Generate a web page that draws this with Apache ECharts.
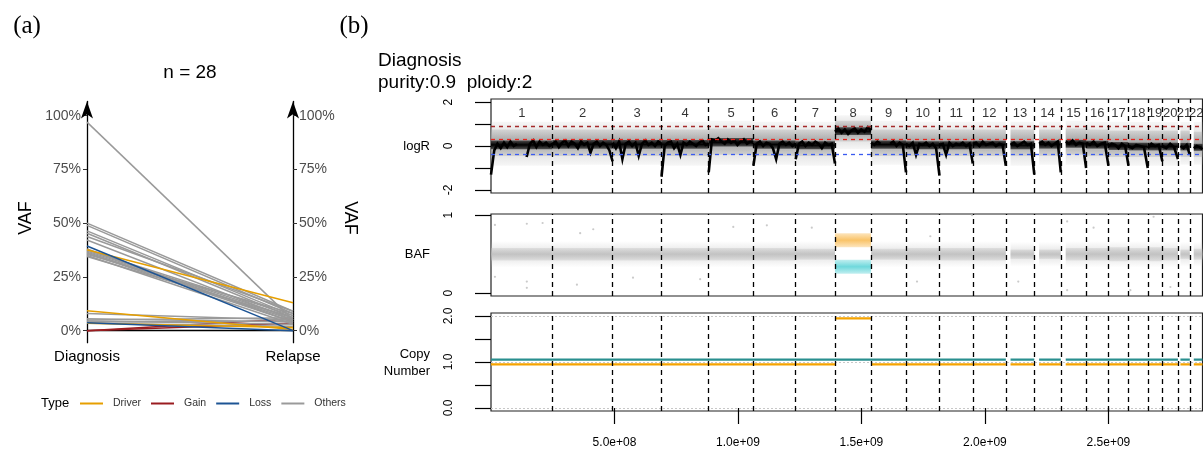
<!DOCTYPE html>
<html>
<head>
<meta charset="utf-8">
<title>VAF and copy number</title>
<script src="https://cdn.jsdelivr.net/npm/echarts@6.0.0/dist/echarts.min.js"></script>
<style>
  html, body { margin: 0; padding: 0; background: #fff; }
  #chart { width: 1203px; height: 451px; }
</style>
</head>
<body>
<div id="chart"></div>
<script>
// (a) VAF of the 28 mutations at diagnosis and relapse
var mutType = ['Gain', 'Gain',
  'Others', 'Others', 'Others', 'Others', 'Others', 'Others', 'Others', 'Others', 'Others', 'Others',
  'Others', 'Others', 'Others', 'Others', 'Others', 'Others', 'Others', 'Others', 'Others', 'Others', 'Others',
  'Driver', 'Driver', 'Driver', 'Loss', 'Loss'];
var vafDiagnosis = [0.0, 0.0,
  0.97, 0.50, 0.49, 0.464, 0.453, 0.438, 0.422, 0.38, 0.375, 0.37,
  0.365, 0.36, 0.355, 0.35, 0.345, 0.08, 0.055, 0.05, 0.045, 0.04, 0.035,
  0.376, 0.093, 0.035, 0.394, 0.037];
var vafRelapse = [0.055, 0.035,
  0.05, 0.09, 0.08, 0.07, 0.06, 0.09, 0.05, 0.04, 0.07, 0.06,
  0.05, 0.04, 0.08, 0.03, 0.06, 0.05, 0.04, 0.06, 0.03, 0.045, 0.02,
  0.13, 0.005, 0.015, 0.0, 0.0];
var typeNames = ['Driver', 'Gain', 'Loss', 'Others'];
var typeColors = { Driver: '#E69F00', Gain: '#9A1C20', Loss: '#1D5494', Others: '#9A9A9A' };
var vafTicks = [0, 0.25, 0.5, 0.75, 1];

// (b) genome (hg19 chromosome sizes, Mb)
var chromNames = ['1','2','3','4','5','6','7','8','9','10','11','12','13','14','15','16','17','18','19','20','21','22'];
var chromLenMb = [249.25, 243.20, 198.02, 191.15, 180.92, 171.12, 159.14, 146.36, 141.21, 135.53, 135.01,
  133.85, 115.17, 107.35, 102.53, 90.35, 81.20, 78.08, 59.13, 63.03, 48.13, 51.30];
var chromDataStartMb = [0, 0, 0, 0, 0, 0, 0, 0, 0, 0, 0, 0, 19.0, 19.5, 20.0, 0, 0, 0, 0, 0, 10.0, 16.0];
var majorCN = [1, 1, 1, 1, 1, 1, 1, 2, 1, 1, 1, 1, 1, 1, 1, 1, 1, 1, 1, 1, 1, 1];
var minorCN = [1, 1, 1, 1, 1, 1, 1, 1, 1, 1, 1, 1, 1, 1, 1, 1, 1, 1, 1, 1, 1, 1];

// logR reference lines
var logRLineValues = [0.91, 0.30, -0.36];
var logRLineColors = ['#A52A2A', '#E8261E', '#3A5BF0'];

// raw logR cloud per chromosome
var logROuterLo = [-0.9,-0.85,-0.85,-0.9,-0.85,-0.85,-0.9,-0.15,-0.85,-0.9,-0.85,-0.85,-0.9,-0.85,-0.85,-0.9,-0.9,-0.9,-0.9,-0.9,-0.85,-0.85];
var logROuterHi = [1.1, 1.1, 1.1, 1.1, 1.15, 1.1, 1.1, 1.4, 1.15, 1.1, 1.1, 1.1, 1.1, 1.1, 1.15, 1.1, 1.1, 1.1, 1.1, 1.1, 1.1, 1.1];
var logRCoreLo = [-0.45,-0.45,-0.45,-0.45,-0.4,-0.45,-0.45,0.2,-0.45,-0.45,-0.45,-0.45,-0.45,-0.45,-0.4,-0.45,-0.5,-0.5,-0.5,-0.5,-0.5,-0.5];
var logRCoreHi = [0.75, 0.75, 0.75, 0.75, 0.8, 0.75, 0.75, 1.15, 0.75, 0.75, 0.75, 0.75, 0.75, 0.75, 0.8, 0.75, 0.7, 0.7, 0.7, 0.7, 0.7, 0.65];
// dense black (smoothed) logR band per chromosome
var logRDenseLo = [-0.15,-0.12,-0.12,-0.12,-0.02,-0.12,-0.15,0.5,-0.12,-0.15,-0.15,-0.12,-0.15,-0.12,-0.08,-0.12,-0.18,-0.2,-0.2,-0.2,-0.2,-0.22];
var logRDenseHi = [0.25, 0.27, 0.27, 0.27, 0.36, 0.25, 0.22, 0.85, 0.25, 0.22, 0.22, 0.24, 0.22, 0.25, 0.28, 0.24, 0.18, 0.15, 0.15, 0.15, 0.14, 0.1];

// segmented logR, evenly spread along each chromosome
var logRBlack = [
  [-1.3,-0.2,0.1,-0.1,0.15,-0.05,0.2,0.0,0.1,null,null,-0.5,0.1,0.25,-0.05,0.2,0.05,0.15,0.0,0.1],
  [0.1,0.2,-0.05,0.15,0.25,0.0,0.2,0.1,-0.1,0.2,0.05,0.15,-0.3,0.1,0.2,0.0,0.15,0.05,-0.2,-0.7],
  [0.15,-0.1,0.2,-0.6,0.1,0.2,0.0,0.15,-0.45,0.1,0.25,0.05,0.15,0.0,0.2,0.1],
  [-1.4,0.0,0.15,0.2,-0.1,0.1,-0.4,0.15,0.05,0.2,0.1,0.0,0.15,0.25,0.05,0.1],
  [-1.2,0.3,0.25,0.35,0.2,0.1,0.3,0.15,0.25,0.05,0.2,0.3,0.1,0.2,0.15],
  [-0.9,0.1,0.2,0.0,0.15,0.1,-0.1,-0.6,0.1,0.2,0.05,0.15,0.0,0.1],
  [-0.6,0.1,0.2,0.0,0.15,0.05,0.2,0.1,-0.1,0.15,0.05,0.1,-0.8],
  [0.65,0.8,0.6,0.75,0.55,0.7,0.8,0.6,0.75,0.65,0.85,0.7],
  [0.15,0.05,0.2,0.1,null,null,0.1,0.2,0.0,0.15,0.05,-1.2],
  [0.1,0.0,0.15,-0.4,0.1,0.05,0.15,0.0,0.1,-0.1,-1.35],
  [0.05,0.1,-0.4,0.15,0.0,0.1,0.05,0.15,0.0,0.1,-0.8],
  [0.1,0.15,0.0,0.2,0.05,0.1,0.15,0.0,0.1,0.05,-0.9],
  [0.05,0.15,0.0,0.1,0.2,0.05,0.1,-1.3],
  [0.1,0.2,0.05,0.15,0.0,0.1,0.2,-1.2],
  [0.2,0.1,0.25,0.05,0.15,0.1,-1.0],
  [0.15,0.05,0.2,0.0,0.1,0.15,-0.9],
  [0.0,0.1,0.05,-0.1,0.1,0.0,-0.9],
  [0.0,-0.1,0.05,0.0,-0.05,-1.0],
  [-0.1,0.1,0.0,0.05,-0.7],
  [0.0,-0.1,0.1,-0.05,-0.6],
  [0.0,-0.1,0.05,-0.4],
  [-0.1,0.0,-0.05,-0.15]
];

// BAF cloud per chromosome (null = no balanced cloud)
var bafOuterLo = [0.33,0.33,0.33,0.33,0.33,0.33,0.33,null,0.33,0.33,0.33,0.33,0.34,0.34,0.33,0.33,0.33,0.33,0.33,0.33,0.34,0.34];
var bafOuterHi = [0.67,0.67,0.67,0.67,0.67,0.67,0.67,null,0.67,0.67,0.67,0.67,0.66,0.66,0.67,0.67,0.67,0.67,0.67,0.67,0.66,0.66];
var bafCoreLo = [0.42,0.42,0.42,0.42,0.42,0.42,0.43,null,0.43,0.42,0.42,0.42,0.44,0.44,0.42,0.42,0.41,0.42,0.41,0.42,0.44,0.43];
var bafCoreHi = [0.58,0.58,0.58,0.58,0.58,0.58,0.57,null,0.57,0.58,0.58,0.58,0.56,0.56,0.58,0.58,0.59,0.58,0.59,0.58,0.56,0.57];
// allelic imbalance on chr8
var bafUpperLo = [null,null,null,null,null,null,null,0.59,null,null,null,null,null,null,null,null,null,null,null,null,null,null];
var bafUpperHi = [null,null,null,null,null,null,null,0.77,null,null,null,null,null,null,null,null,null,null,null,null,null,null];
var bafLowerLo = [null,null,null,null,null,null,null,0.25,null,null,null,null,null,null,null,null,null,null,null,null,null,null];
var bafLowerHi = [null,null,null,null,null,null,null,0.43,null,null,null,null,null,null,null,null,null,null,null,null,null,null];
// scattered BAF outliers: genome position (Mb), BAF
var bafOutlierPosMb = [16, 16, 145, 145, 145, 209, 348, 361, 414, 575, 847, 981, 1117, 1299, 1725, 1779, 1948, 2135, 2333, 2333, 2440, 2589, 2683, 2751];
var bafOutlierVal = [0.875, 0.21, 0.89, 0.15, 0.07, 0.9, 0.11, 0.77, 0.82, 0.2, 0.18, 0.85, 0.87, 0.84, 0.15, 0.73, 1.0, 0.15, 0.92, 0.04, 0.84, 0.04, 0.98, 0.08];

var cnTicks = [0, 0.5, 1, 1.5, 2];
var cnLabels = [0, 1, 2];
var cnGuides = [0, 1, 2];
var genomeTicks = [5e8, 1e9, 1.5e9, 2e9, 2.5e9];

// ---------- derived positions ----------
var MB = 1e6;
var chromStart = [];
var acc = 0;
for (var i = 0; i < chromLenMb.length; i++) { chromStart.push(acc * MB); acc += chromLenMb[i]; }
var genomeLen = acc * MB;
function chromEnd(i) { return chromStart[i] + chromLenMb[i] * MB; }
function dataStart(i) { return chromStart[i] + chromDataStartMb[i] * MB; }

var boundaries = [];
for (var i = 1; i < chromStart.length; i++) boundaries.push(chromStart[i]);

function bandRows(lo, hi) {
  var rows = [];
  for (var i = 0; i < lo.length; i++) {
    if (lo[i] == null) continue;
    rows.push([dataStart(i), chromEnd(i), lo[i], hi[i]]);
  }
  return rows;
}

var blackData = [];
for (var c = 0; c < logRBlack.length; c++) {
  var vals = logRBlack[c];
  var s = dataStart(c), e = chromEnd(c);
  for (var k = 0; k < vals.length; k++) {
    blackData.push([s + (e - s) * k / (vals.length - 1), vals[k]]);
  }
  blackData.push([e, null]);
}

function cnSegments(cn, shift) {
  var d = [];
  for (var i = 0; i < cn.length; i++) {
    d.push([dataStart(i), cn[i] + shift]);
    d.push([chromEnd(i), cn[i] + shift]);
    d.push([chromEnd(i), null]);
  }
  return d;
}

// soft vertical fade so the dense point clouds do not look like solid blocks
function fade(r, g, b, edge, mid) {
  var c = 'rgba(' + r + ',' + g + ',' + b + ',';
  return { type: 'linear', x: 0, y: 0, x2: 0, y2: 1, colorStops: [
    { offset: 0, color: c + edge + ')' }, { offset: 0.5, color: c + mid + ')' }, { offset: 1, color: c + edge + ')' }] };
}

function bandRender(fill) {
  return function (params, api) {
    var a = api.coord([api.value(0), api.value(3)]);
    var b = api.coord([api.value(1), api.value(2)]);
    return { type: 'rect', shape: { x: a[0], y: a[1], width: b[0] - a[0], height: b[1] - a[1] }, style: { fill: fill } };
  };
}

function sciLabel(v) {
  var p = v.toExponential(1).split('e');
  var ex = parseInt(p[1], 10);
  return p[0] + 'e' + (ex < 0 ? '-' : '+') + (Math.abs(ex) < 10 ? '0' : '') + Math.abs(ex);
}

var boundaryLines = boundaries.map(function (b) { return { xAxis: b }; });
var dashStyle = { color: '#000', width: 1.3, type: [5, 4] };
var FONT = 'Liberation Sans, Arial, Helvetica, sans-serif';

// ---------- series ----------
var series = [];
var drawOrder = ['Gain', 'Others', 'Driver', 'Loss'];
drawOrder.forEach(function (t, oi) {
  for (var i = 0; i < mutType.length; i++) {
    if (mutType[i] !== t) continue;
    series.push({
      type: 'line', name: t, xAxisIndex: 0, yAxisIndex: 0,
      data: [vafDiagnosis[i], vafRelapse[i]],
      symbol: 'none', z: 2 + oi,
      lineStyle: { color: typeColors[t], width: 1.5 },
      itemStyle: { color: typeColors[t] }
    });
  }
});

function band(xi, yi, fill, rows, z) {
  return { type: 'custom', xAxisIndex: xi, yAxisIndex: yi, clip: true, z: z || 1,
    renderItem: bandRender(fill), encode: { x: [0, 1], y: [2, 3] }, data: rows };
}

series.push(band(1, 2, fade(200, 200, 200, 0.15, 0.8), bandRows(logROuterLo, logROuterHi)));
series.push(band(1, 2, fade(150, 150, 150, 0.25, 0.75), bandRows(logRCoreLo, logRCoreHi)));
series.push(band(1, 2, fade(0, 0, 0, 0.55, 1), bandRows(logRDenseLo, logRDenseHi), 2));

var logRMarks = logRLineValues.map(function (v, i) {
  return { yAxis: v, lineStyle: { color: logRLineColors[i], width: 1.3, type: [4, 4] } };
}).concat(boundaryLines);

series.push({
  type: 'line', xAxisIndex: 1, yAxisIndex: 2, data: blackData, symbol: 'none', z: 3,
  connectNulls: false, lineStyle: { color: '#000', width: 2.6, join: 'miter' },
  markLine: { silent: true, symbol: 'none', label: { show: false }, lineStyle: dashStyle, data: logRMarks }
});

series.push({
  type: 'scatter', xAxisIndex: 1, yAxisIndex: 2, symbolSize: 1, z: 5,
  itemStyle: { color: 'rgba(0,0,0,0)' },
  label: { show: true, position: 'inside', formatter: '{b}', color: '#000', fontSize: 13, fontFamily: FONT },
  data: chromNames.map(function (n, i) { return { name: n, value: [(chromStart[i] + chromEnd(i)) / 2, 1.5] }; })
});

series.push(band(2, 3, fade(200, 200, 200, 0.0, 0.55), bandRows(bafOuterLo, bafOuterHi)));
series.push(band(2, 3, fade(185, 185, 185, 0.3, 0.75), bandRows(bafCoreLo, bafCoreHi)));
series.push(band(2, 3, fade(247, 170, 40, 0.3, 0.7), bandRows(bafUpperLo, bafUpperHi)));
series.push(band(2, 3, fade(50, 200, 205, 0.3, 0.7), bandRows(bafLowerLo, bafLowerHi)));
series.push({
  type: 'scatter', xAxisIndex: 2, yAxisIndex: 3, symbolSize: 2.2, z: 2,
  itemStyle: { color: '#bdbdbd' },
  data: bafOutlierPosMb.map(function (p, i) { return [p * MB, bafOutlierVal[i]]; }),
  markLine: { silent: true, symbol: 'none', label: { show: false }, lineStyle: dashStyle, data: boundaryLines }
});

series.push({
  type: 'line', xAxisIndex: 3, yAxisIndex: 4, data: cnSegments(minorCN, 0.05), symbol: 'none', z: 3,
  connectNulls: false, lineStyle: { color: '#2A8F8F', width: 2.2 },
  markLine: { silent: true, symbol: 'none', label: { show: false },
    lineStyle: { color: '#c8c8c8', width: 1, type: [2, 2] },
    data: cnGuides.map(function (v) { return { yAxis: v }; }) }
});
series.push({
  type: 'line', xAxisIndex: 3, yAxisIndex: 4, data: cnSegments(majorCN, -0.05), symbol: 'none', z: 3,
  connectNulls: false, lineStyle: { color: '#F5A300', width: 2.2 },
  markLine: { silent: true, symbol: 'none', label: { show: false }, lineStyle: dashStyle, data: boundaryLines }
});

// ---------- axes ----------
var vafAxisBase = {
  type: 'value', gridIndex: 0, min: -0.056, max: 1.066,
  axisLine: { show: true, symbol: ['none', 'arrow'], symbolSize: [9, 17], lineStyle: { color: '#000', width: 1.3 } },
  axisTick: { show: true, length: 4, customValues: vafTicks, lineStyle: { color: '#333' } },
  axisLabel: { customValues: vafTicks, fontSize: 14, color: '#4D4D4D', fontFamily: FONT, margin: 6,
    formatter: function (v) { return Math.round(v * 100) + '%'; } },
  splitLine: { show: false }
};
var leftVaf = Object.assign({}, vafAxisBase, { position: 'left' });
var rightVaf = Object.assign({}, vafAxisBase, { position: 'right' });

function genomeAxis(gi, withTicks) {
  return {
    type: 'value', gridIndex: gi, min: 0, max: genomeLen,
    axisLine: { show: false },
    axisTick: { show: withTicks, length: 16, inside: false, customValues: genomeTicks, lineStyle: { color: '#000', width: 1.2 } },
    axisLabel: { show: withTicks, customValues: genomeTicks, formatter: sciLabel, fontSize: 12, color: '#000', fontFamily: FONT, margin: 26 },
    splitLine: { show: false }
  };
}
function trackAxis(gi, mn, mx, ticks, labels, fmt) {
  return {
    type: 'value', gridIndex: gi, min: mn, max: mx,
    axisLine: { show: false },
    axisTick: { show: true, length: 16, customValues: ticks, lineStyle: { color: '#000', width: 1.2 } },
    axisLabel: { customValues: labels, rotate: 90, fontSize: 12, color: '#000', fontFamily: FONT, margin: 36, formatter: fmt },
    splitLine: { show: false }
  };
}

var option = {
  animation: false,
  backgroundColor: '#fff',
  textStyle: { fontFamily: FONT },
  grid: [
    { left: 87, top: 101.5, width: 206, height: 241.2 },
    { left: 491, top: 99, width: 711.5, height: 94, show: true, borderColor: '#222', borderWidth: 1.2 },
    { left: 491, top: 214, width: 711.5, height: 82, show: true, borderColor: '#222', borderWidth: 1.2 },
    { left: 491, top: 313, width: 711.5, height: 98, show: true, borderColor: '#222', borderWidth: 1.2 }
  ],
  xAxis: [
    { type: 'category', gridIndex: 0, data: ['Diagnosis', 'Relapse'], boundaryGap: false,
      axisLine: { lineStyle: { color: '#000', width: 1.3 } }, axisTick: { show: false },
      axisLabel: { fontSize: 15, color: '#000', fontFamily: FONT, margin: 7 } },
    genomeAxis(1, false), genomeAxis(2, false), genomeAxis(3, true)
  ],
  yAxis: [
    leftVaf, rightVaf,
    trackAxis(1, -2.14, 2.14, [-2, -1, 0, 1, 2], [-2, 0, 2], function (v) { return String(v); }),
    trackAxis(2, -0.035, 1.015, [0, 1], [0, 1], function (v) { return String(v); }),
    trackAxis(3, -0.065, 2.065, cnTicks, cnLabels, function (v) { return v.toFixed(1); })
  ],
  legend: {
    data: typeNames, left: 80, top: 398, padding: 0, icon: 'rect', itemWidth: 23, itemHeight: 2, itemGap: 10,
    selectedMode: false,
    textStyle: { fontSize: 10.5, color: '#333', fontFamily: FONT, padding: [0, 0, 0, 5] }
  },
  graphic: [
    { type: 'text', x: 27, y: 26, style: { text: '(a)', fontSize: 25, fontFamily: 'Liberation Serif, Times New Roman, serif', fill: '#000', textAlign: 'center', textVerticalAlign: 'middle' } },
    { type: 'text', x: 354, y: 26, style: { text: '(b)', fontSize: 25, fontFamily: 'Liberation Serif, Times New Roman, serif', fill: '#000', textAlign: 'center', textVerticalAlign: 'middle' } },
    { type: 'text', x: 190, y: 73, style: { text: 'n = 28', fontSize: 19, fontFamily: FONT, fill: '#000', textAlign: 'center', textVerticalAlign: 'middle' } },
    { type: 'text', x: 26, y: 218, rotation: Math.PI / 2, style: { text: 'VAF', fontSize: 18, fontFamily: FONT, fill: '#000', textAlign: 'center', textVerticalAlign: 'middle' } },
    { type: 'text', x: 350, y: 218, rotation: -Math.PI / 2, style: { text: 'VAF', fontSize: 18, fontFamily: FONT, fill: '#000', textAlign: 'center', textVerticalAlign: 'middle' } },
    { type: 'text', x: 41, y: 403, style: { text: 'Type', fontSize: 13, fontFamily: FONT, fill: '#000', textAlign: 'left', textVerticalAlign: 'middle' } },
    { type: 'text', x: 378, y: 61, style: { text: 'Diagnosis', fontSize: 19, fontFamily: FONT, fill: '#000', textAlign: 'left', textVerticalAlign: 'middle' } },
    { type: 'text', x: 378, y: 83, style: { text: 'purity:0.9  ploidy:2', fontSize: 19, fontFamily: FONT, fill: '#000', textAlign: 'left', textVerticalAlign: 'middle' } },
    { type: 'text', x: 430, y: 146, style: { text: 'logR', fontSize: 13, fontFamily: FONT, fill: '#000', textAlign: 'right', textVerticalAlign: 'middle' } },
    { type: 'text', x: 430, y: 254, style: { text: 'BAF', fontSize: 13, fontFamily: FONT, fill: '#000', textAlign: 'right', textVerticalAlign: 'middle' } },
    { type: 'text', x: 430, y: 354, style: { text: 'Copy', fontSize: 13, fontFamily: FONT, fill: '#000', textAlign: 'right', textVerticalAlign: 'middle' } },
    { type: 'text', x: 430, y: 371, style: { text: 'Number', fontSize: 13, fontFamily: FONT, fill: '#000', textAlign: 'right', textVerticalAlign: 'middle' } }
  ],
  series: series
};

var chart = echarts.init(document.getElementById('chart'));
chart.setOption(option);
</script>
</body>
</html>
